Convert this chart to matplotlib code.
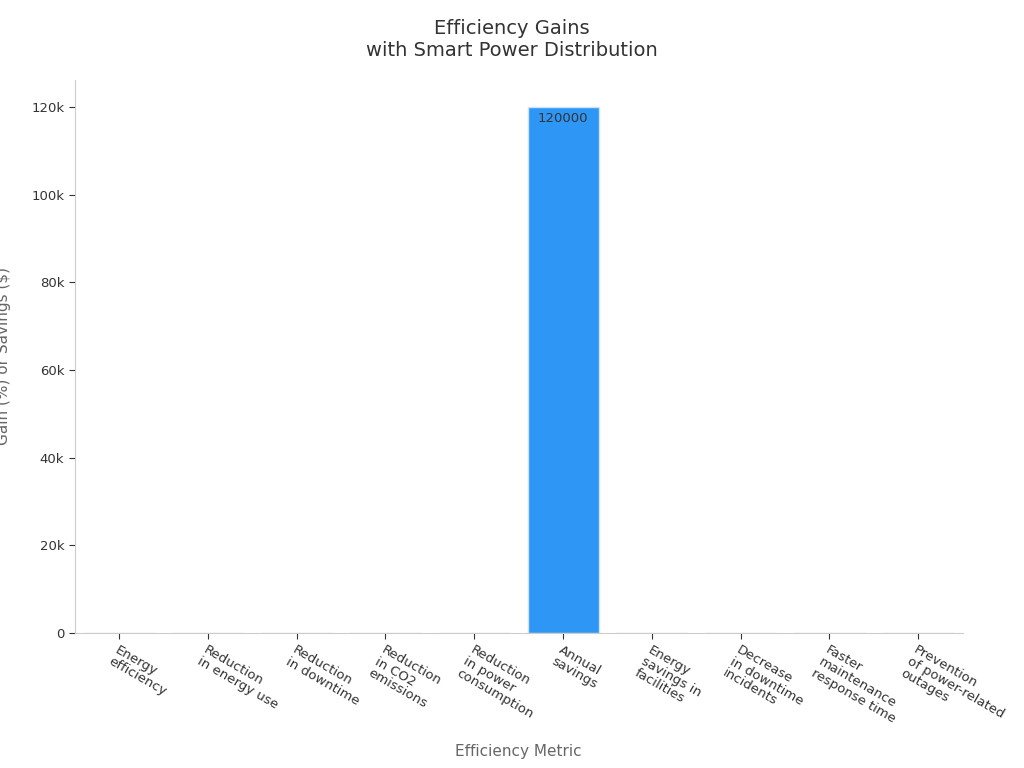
import matplotlib
matplotlib.use("Agg")
import matplotlib.pyplot as plt

categories = ["Energy\nefficiency", "Reduction\nin energy use", "Reduction\nin downtime",
              "Reduction\nin CO2\nemissions", "Reduction\nin power\nconsumption", "Annual\nsavings",
              "Energy\nsavings in\nfacilities", "Decrease\nin downtime\nincidents",
              "Faster\nmaintenance\nresponse time", "Prevention\nof power-related\noutages"]
values = [30, 30, 10, 40, 10, 120000, 10, 30, 35, 30]

fig = plt.figure(figsize=(10.24, 7.68), dpi=100)
ax = fig.add_axes([0.073, 0.176, 0.867, 0.72])
x = range(len(values))
bars = ax.bar(x, values, width=0.8, color="#2e96f5", edgecolor="#cfe3f7", linewidth=1)
ax.set_xlim(-0.5, len(values) - 0.5)
ax.set_ylim(0, 126200)
ax.set_yticks([0, 20000, 40000, 60000, 80000, 100000, 120000])
ax.set_yticklabels(["0", "20k", "40k", "60k", "80k", "100k", "120k"], fontsize=9.5, color="#333333")
ax.set_xticks(list(x))
ax.set_xticklabels(categories, rotation=-30, ha="left", va="top", rotation_mode="anchor",
                   fontsize=9.5, color="#222222", linespacing=1.05)
for lbl in ax.get_xticklabels():
    lbl.set_x(lbl.get_position()[0])
for s in ["top", "right"]:
    ax.spines[s].set_visible(False)
for s in ["left", "bottom"]:
    ax.spines[s].set_color("#cccccc")
ax.tick_params(colors="#333333", length=4)
for i, v in enumerate(values):
    if v > 1000:
        ax.text(i, v - 1200, str(v), ha="center", va="top", fontsize=9.5, color="#333333")
ax.set_xlabel("Efficiency Metric", fontsize=11, color="#666666", labelpad=8)
ax.yaxis.set_label_coords(-0.072, 0.5)
ax.set_ylabel("Gain (%) or Savings ($)", fontsize=11, color="#666666")
fig.suptitle("Efficiency Gains\nwith Smart Power Distribution", fontsize=14, color="#333333", y=0.975)
fig.savefig("out.png", dpi=100)
